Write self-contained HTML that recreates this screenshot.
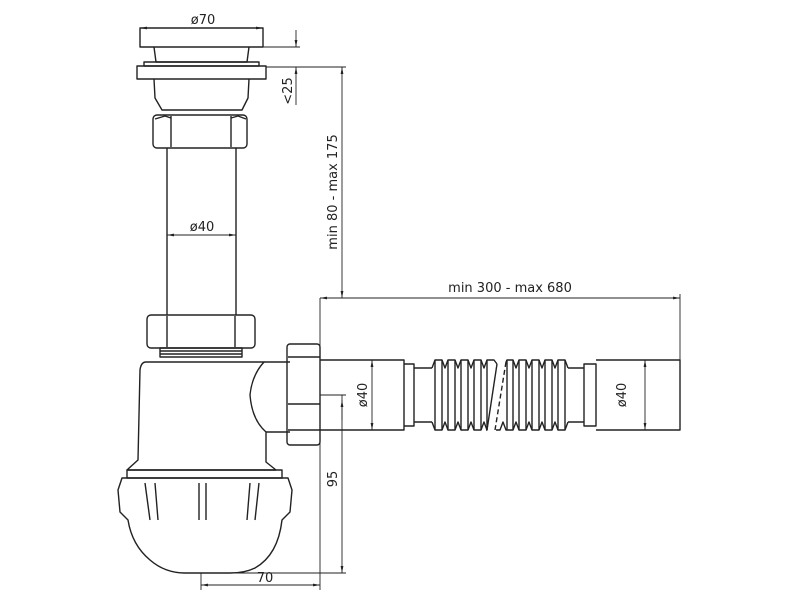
<!DOCTYPE html>
<html><head><style>html,body{margin:0;background:#fff}svg{display:block}</style></head><body>
<svg width="800" height="600" viewBox="0 0 800 600" xmlns="http://www.w3.org/2000/svg">
<defs>
<marker id="a" viewBox="0 0 10 10" refX="10" refY="5" markerWidth="8" markerHeight="8" orient="auto-start-reverse"><path d="M0,3 L10,5 L0,7 z" fill="#222"/></marker>
</defs>
<g fill="none" stroke="#222" stroke-width="1.4" stroke-linejoin="round">
<!-- strainer -->
<rect x="140" y="28" width="123" height="19"/>
<path d="M154,47 L156,62 L247,62 L249,47"/>
<rect x="144" y="62" width="115" height="4"/>
<rect x="137" y="66" width="129" height="13"/>
<path d="M154,79 L155,98 L162,110 L242,110 L248,98 L249,79"/>
<!-- upper nut -->
<rect x="153" y="115" width="94" height="33" rx="4"/>
<line x1="171" y1="116" x2="171" y2="147"/><line x1="231" y1="116" x2="231" y2="147"/>
<path d="M155,119 L165,116 L171,118"/><path d="M231,118 L238,116 L246,119"/>
<!-- pipe -->
<line x1="167" y1="148" x2="167" y2="315"/><line x1="236" y1="148" x2="236" y2="315"/>
<!-- lower nut -->
<rect x="147" y="315" width="108" height="33" rx="4"/>
<line x1="167" y1="316" x2="167" y2="347"/><line x1="235" y1="316" x2="235" y2="347"/>
<rect x="160" y="348" width="82" height="9"/>
<line x1="160" y1="351" x2="242" y2="351"/><line x1="160" y1="354" x2="242" y2="354"/>
<!-- body -->
<path d="M146,362 L264,362 Q252,375 250,395 Q252,420 266,432 L266,462 L276,470 L127,470 L138,460 L140,370 Q141,362 146,362 Z"/>
<path d="M264,362 L290,362 M266,432 L290,432"/>
<!-- side nut -->
<rect x="287" y="344" width="33" height="101" rx="3"/>
<line x1="288" y1="357" x2="320" y2="357"/><line x1="288" y1="430" x2="320" y2="430"/>
<line x1="288" y1="404" x2="320" y2="404"/>
<!-- bowl -->
<rect x="127" y="470" width="155" height="8"/>
<path d="M122,478 L288,478 L292,490 L290,512 L282,520 Q278,555 255,568 Q245,573 230,573 L185,573 Q165,573 150,560 Q132,545 128,520 L120,512 L118,490 Z"/>
<path d="M145,483 L150,520 M155,483 L158,520"/>
<path d="M199,483 L199,520 M206,483 L206,520"/>
<path d="M250,483 L247,520 M259,483 L255,520"/>
<!-- outlet -->
<path d="M320,360 L404,360 L404,430 L320,430"/>
<path d="M404,364 L414,364 L414,426 L404,426"/>
<path d="M414,368 L432,368 M414,422 L432,422"/>
<!-- bellows left group -->
<path d="M432,368 L435,360 L442,360 L445,368 L448,360 L455,360 L458,368 L461,360 L468,360 L471,368 L474,360 L481,360 L484,368 L487,360 L494,360 L497,364"/>
<path d="M432,422 L435,430 L442,430 L445,422 L448,430 L455,430 L458,422 L461,430 L468,430 L471,422 L474,430 L481,430 L484,422 L487,430 L486,430"/>
<path d="M435,360 V430 M442,360 V430 M448,360 V430 M455,360 V430 M461,360 V430 M468,360 V430 M474,360 V430 M481,360 V430 M487,360 V430"/>
<path d="M497,364 L487,430"/>
<path d="M506,362 L495,430" stroke-dasharray="5,3"/>
<!-- bellows right group -->
<path d="M506,362 L507,360 L513,360 L516,368 L519,360 L526,360 L529,368 L532,360 L539,360 L542,368 L545,360 L552,360 L555,368 L558,360 L565,360 L568,368"/>
<path d="M496,430 L500,430 L503,422 L506,430 L513,430 L516,422 L519,430 L526,430 L529,422 L532,430 L539,430 L542,422 L545,430 L552,430 L555,422 L558,430 L565,430 L568,422"/>
<path d="M507,360 V430 M513,360 V430 M519,360 V430 M526,360 V430 M532,360 V430 M539,360 V430 M545,360 V430 M552,360 V430 M558,360 V430 M565,360 V430"/>
<path d="M568,368 L584,368 M568,422 L584,422"/>
<path d="M584,364 L596,364 L596,426 L584,426 Z"/>
<path d="M596,360 L680,360 L680,430 L596,430"/>
</g>
<g stroke="#222" stroke-width="0.9" fill="none">
<line x1="140" y1="28" x2="263" y2="28" marker-start="url(#a)" marker-end="url(#a)"/>
<line x1="250" y1="47" x2="300" y2="47"/><line x1="266" y1="67" x2="346" y2="67"/>
<line x1="296" y1="30" x2="296" y2="47" marker-end="url(#a)"/>
<line x1="296" y1="105" x2="296" y2="67" marker-end="url(#a)"/>
<line x1="342" y1="67" x2="342" y2="298" marker-start="url(#a)" marker-end="url(#a)"/>
<line x1="320" y1="298" x2="346" y2="298"/>
<line x1="167" y1="235" x2="236" y2="235" marker-start="url(#a)" marker-end="url(#a)"/>
<line x1="320" y1="298" x2="680" y2="298" marker-start="url(#a)" marker-end="url(#a)"/>
<line x1="680" y1="294" x2="680" y2="360"/>
<line x1="320" y1="298" x2="320" y2="590"/>
<line x1="372" y1="360" x2="372" y2="430" marker-start="url(#a)" marker-end="url(#a)"/>
<line x1="645" y1="360" x2="645" y2="430" marker-start="url(#a)" marker-end="url(#a)"/>
<line x1="320" y1="395" x2="346" y2="395"/>
<line x1="342" y1="395" x2="342" y2="573" marker-end="url(#a)"/>
<line x1="342" y1="420" x2="342" y2="400" marker-end="url(#a)"/>
<line x1="185" y1="573" x2="346" y2="573"/>
<line x1="201" y1="573" x2="201" y2="590"/>
<line x1="201" y1="585" x2="320" y2="585" marker-start="url(#a)" marker-end="url(#a)"/>
</g>
<g font-family="'DejaVu Sans', 'Liberation Sans', sans-serif" font-size="13" fill="#222">
<text x="203" y="24" text-anchor="middle">ø70</text>
<text x="202" y="231" text-anchor="middle">ø40</text>
<text x="510" y="292" text-anchor="middle">min 300 - max 680</text>
<text x="265" y="582" text-anchor="middle">70</text>
<text transform="translate(337,192) rotate(-90)" text-anchor="middle">min 80 - max 175</text>
<text transform="translate(292,91) rotate(-90)" text-anchor="middle">&lt;25</text>
<text transform="translate(337,479) rotate(-90)" text-anchor="middle">95</text>
<text transform="translate(367,395) rotate(-90)" text-anchor="middle">ø40</text>
<text transform="translate(626,395) rotate(-90)" text-anchor="middle">ø40</text>
</g>
</svg>
</body></html>
